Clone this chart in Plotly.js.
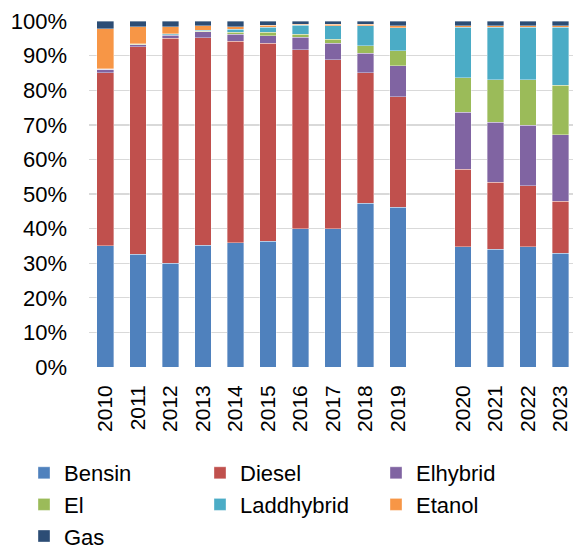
<!DOCTYPE html>
<html>
<head>
<meta charset="utf-8">
<script src="https://cdn.plot.ly/plotly-3.0.1.min.js"></script>
<style>html,body{margin:0;padding:0;background:#fff;overflow:hidden;}</style>
</head>
<body>
<div id="chart" style="width:573px;height:549px;"></div>
<script>
// Data (percent shares)
const years = ["2010","2011","2012","2013","2014","2015","2016","2017","2018","2019","2020","2021","2022","2023"];
const categoryOrder = ["2010","2011","2012","2013","2014","2015","2016","2017","2018","2019"," ","2020","2021","2022","2023"];
const bensin     = [35.0, 32.6, 30.0, 35.2, 35.9, 36.3, 39.9, 40.0, 47.4, 46.1, 34.8, 34.0, 34.8, 32.9];
const diesel     = [50.0, 59.9, 65.0, 60.0, 58.2, 57.2, 51.8, 48.8, 37.7, 32.0, 22.3, 19.4, 17.6, 15.0];
const elhybrid   = [1.0, 0.7, 0.9, 1.7, 2.0, 2.2, 3.6, 4.7, 5.6, 8.9, 16.6, 17.4, 17.5, 19.2];
const el         = [0.1, 0.1, 0.1, 0.1, 0.6, 1.0, 0.9, 1.2, 2.2, 4.4, 9.9, 12.2, 13.1, 14.4];
const laddhybrid = [0.1, 0.1, 0.3, 0.4, 0.9, 1.5, 2.6, 4.0, 5.8, 6.7, 14.6, 15.2, 15.2, 16.7];
const etanol     = [11.6, 4.9, 2.1, 1.2, 0.8, 0.6, 0.3, 0.4, 0.4, 0.5, 0.5, 0.5, 0.5, 0.5];
const gas        = [2.2, 1.7, 1.6, 1.4, 1.6, 1.2, 0.9, 0.9, 0.9, 1.4, 1.3, 1.3, 1.3, 1.3];
const yTicks     = [0,10,20,30,40,50,60,70,80,90,100];

const series = [
  {name: "Bensin", y: bensin, color: "#4f81bd"},
  {name: "Diesel", y: diesel, color: "#c0504d"},
  {name: "Elhybrid", y: elhybrid, color: "#8064a2"},
  {name: "El", y: el, color: "#9bbb59"},
  {name: "Laddhybrid", y: laddhybrid, color: "#4bacc6"},
  {name: "Etanol", y: etanol, color: "#f79646"},
  {name: "Gas", y: gas, color: "#2c4d75"}
];

const FONT = '"Liberation Sans", Arial, sans-serif';

const traces = series.map(s => ({
  type: "bar",
  name: s.name,
  x: years,
  y: s.y,
  marker: {color: s.color, line: {color: "rgba(255,255,255,0.45)", width: 0.8}},
  hoverinfo: "x+y+name"
}));

// plot area: left 89, bottom 367 (549-182), height 346, width 484
const layout = {
  width: 573,
  height: 549,
  margin: {l: 89, r: 0, t: 21, b: 182, pad: 0, autoexpand: false},
  paper_bgcolor: "#ffffff",
  plot_bgcolor: "#ffffff",
  barmode: "stack",
  bargap: 0.49,
  font: {family: FONT, size: 22, color: "#000000"},
  xaxis: {
    type: "category",
    categoryorder: "array",
    categoryarray: categoryOrder,
    range: [-0.5, 14.38],
    tickangle: -90,
    ticks: "",
    showgrid: false,
    showline: false,
    zeroline: false,
    ticklabelstandoff: 13,
    tickfont: {family: FONT, size: 21, color: "#000"}
  },
  yaxis: {
    range: [0, 100],
    tickvals: yTicks,
    ticktext: yTicks.map(v => v + "%"),
    ticks: "",
    showgrid: true,
    gridcolor: "#d9d9d9",
    gridwidth: 1.4,
    zeroline: false,
    showline: false,
    ticklabelstandoff: 21,
    tickfont: {family: FONT, size: 22, color: "#000"}
  },
  showlegend: true,
  legend: {
    orientation: "h",
    x: (24 - 89) / 484,
    xanchor: "left",
    y: -(452 - 367) / 346,
    yanchor: "top",
    entrywidth: 131,
    entrywidthmode: "pixels",
    traceorder: "normal",
    font: {family: FONT, size: 22, color: "#000"},
    bgcolor: "rgba(0,0,0,0)",
    tracegroupgap: 0
  }
};

Plotly.newPlot("chart", traces, layout, {displayModeBar: false, staticPlot: true});
</script>
</body>
</html>
